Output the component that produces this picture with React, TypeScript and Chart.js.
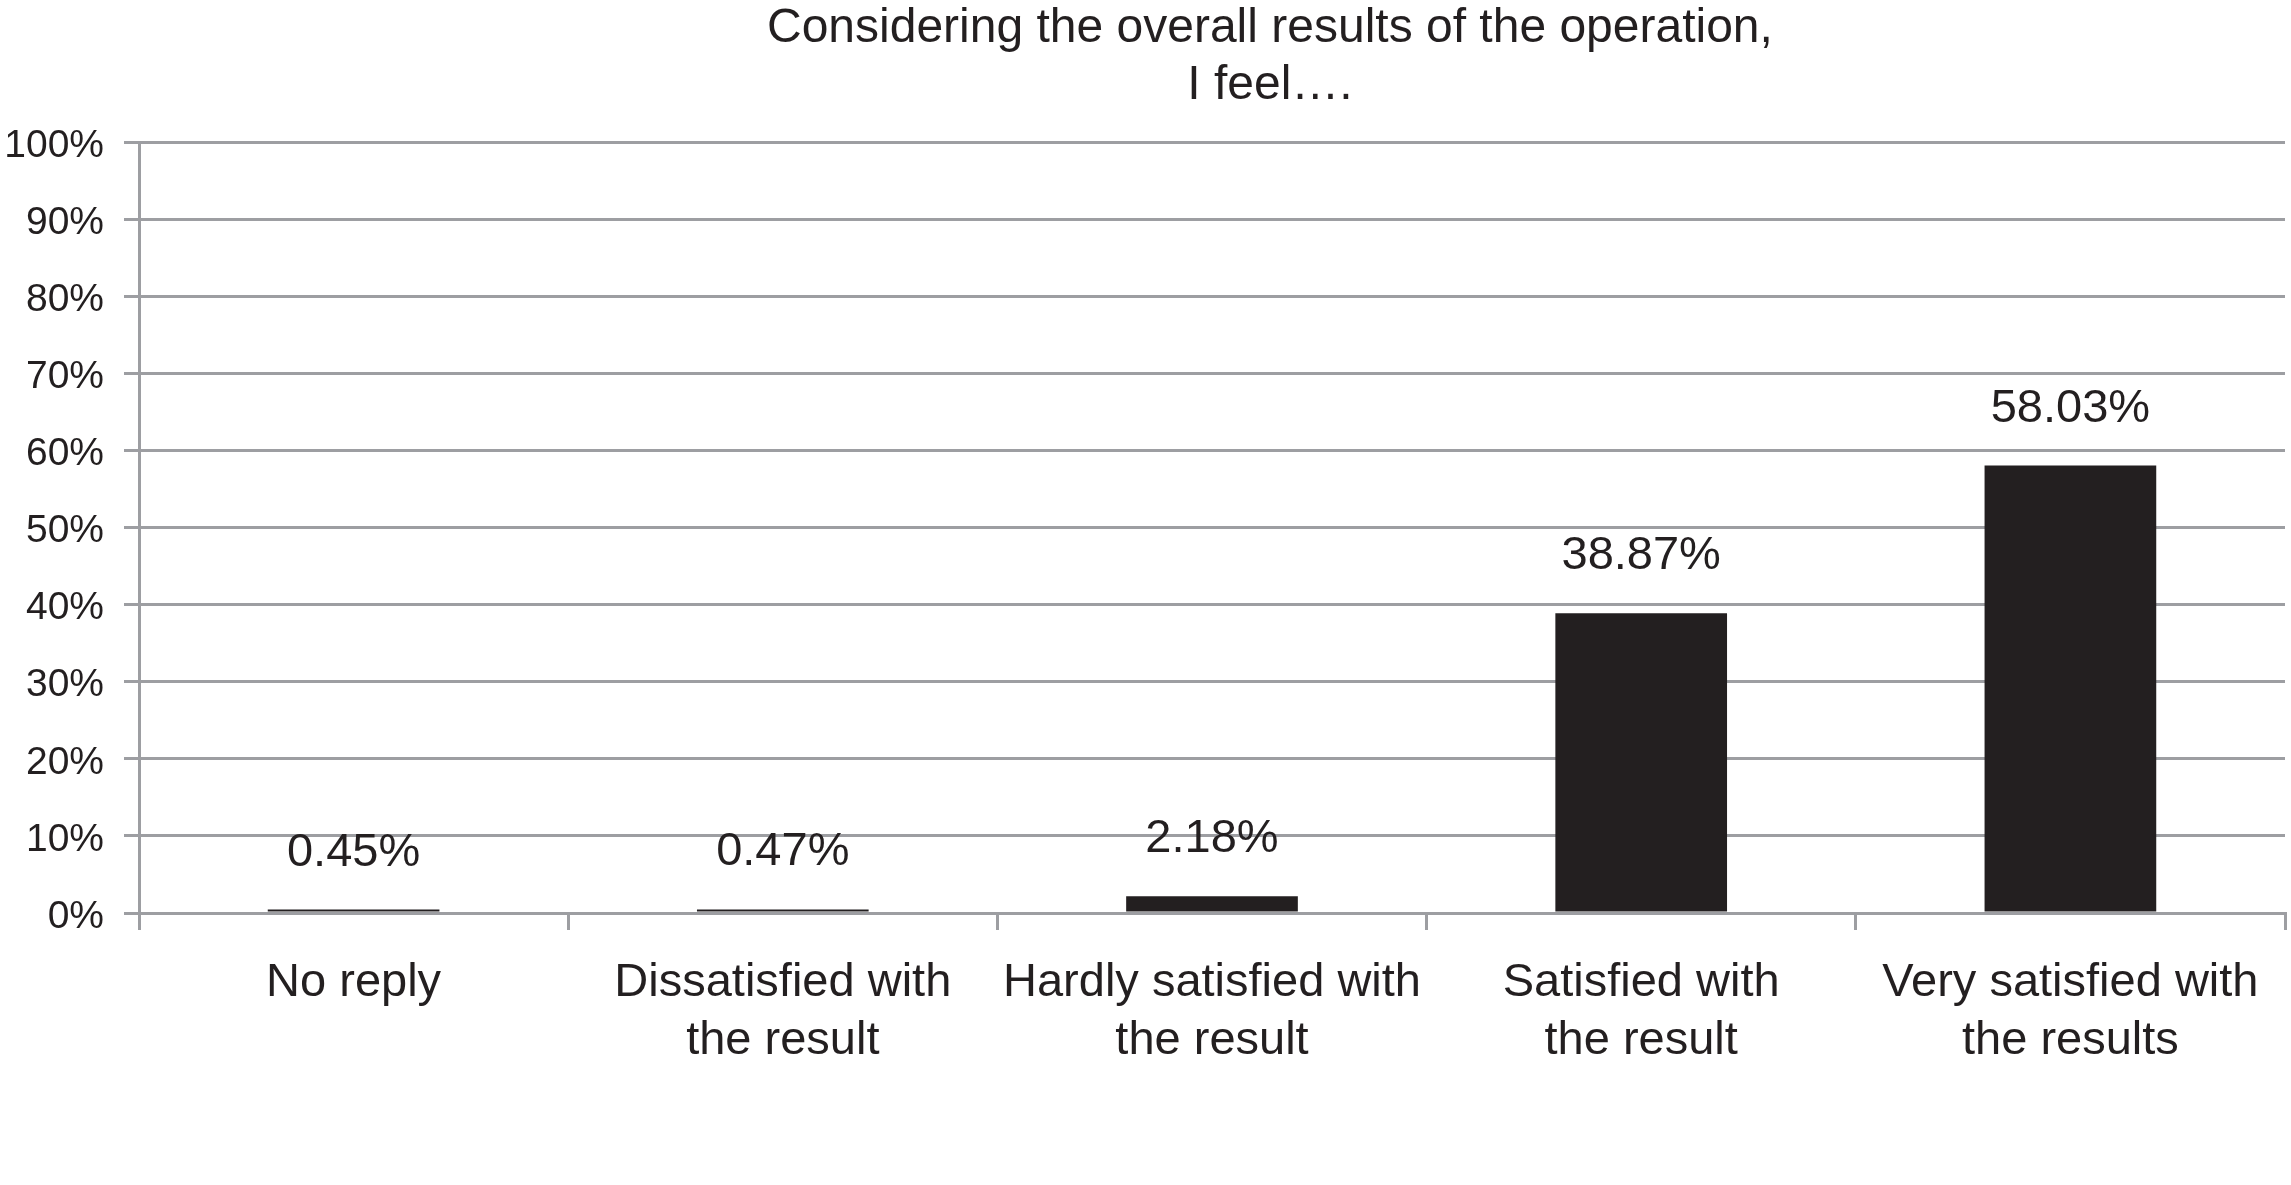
import React, { useEffect, useRef } from "react";
import { Chart, registerables } from "chart.js";

Chart.register(...registerables);

const titleLines: string[] = ["Considering the overall results of the operation,", "I feel…."];
const categories: string[][] = [
  ["No reply"],
  ["Dissatisfied with", "the result"],
  ["Hardly satisfied with", "the result"],
  ["Satisfied with", "the result"],
  ["Very satisfied with", "the results"],
];
const values: number[] = [0.45, 0.47, 2.18, 38.87, 58.03];
const valueLabels: string[] = ["0.45%", "0.47%", "2.18%", "38.87%", "58.03%"];
const yMin = 0;
const yMax = 100;
const yStep = 10;

const FONT = "'Liberation Sans', Arial, Helvetica, sans-serif";
const INK = "#231f20";
const GRID = "#9d9ea2";

const titlePlugin = {
  id: "customTitle",
  afterDraw(chart: any) {
    const { ctx, chartArea } = chart;
    ctx.save();
    ctx.fillStyle = INK;
    ctx.font = `48px ${FONT}`;
    ctx.textAlign = "center";
    ctx.textBaseline = "alphabetic";
    const cx = chartArea.left + (chartArea.right - chartArea.left) * 0.527;
    ctx.fillText(titleLines[0], cx, chartArea.top - 100);
    ctx.fillText(titleLines[1], cx, chartArea.top - 43);
    ctx.restore();
  },
};

const valueLabelPlugin = {
  id: "valueLabels",
  afterDatasetsDraw(chart: any) {
    const { ctx } = chart;
    const meta = chart.getDatasetMeta(0);
    ctx.save();
    ctx.fillStyle = INK;
    ctx.font = `47px ${FONT}`;
    ctx.textAlign = "center";
    ctx.textBaseline = "alphabetic";
    meta.data.forEach((bar: any, i: number) => {
      ctx.fillText(valueLabels[i], bar.x, bar.y - 44);
    });
    ctx.restore();
  },
};

export default function App() {
  const ref = useRef<HTMLCanvasElement | null>(null);
  useEffect(() => {
    if (!ref.current) return;
    const chart = new Chart(ref.current, {
      type: "bar",
      data: {
        labels: categories,
        datasets: [
          {
            data: values,
            backgroundColor: INK,
            borderWidth: 0,
            barPercentage: 0.4,
            categoryPercentage: 1.0,
          },
        ],
      },
      options: {
        responsive: false,
        animation: false,
        events: [],
        layout: { padding: { top: 142, right: 6, left: 0, bottom: 0 } },
        plugins: {
          legend: { display: false },
          title: { display: false },
          tooltip: { enabled: false },
        },
        scales: {
          x: {
            z: 1,
            afterFit: (s: any) => {
              s.height = 272;
            },
            grid: {
              display: true,
              drawOnChartArea: false,
              drawTicks: true,
              tickLength: 17,
              color: GRID,
              lineWidth: 3,
              offset: true,
            },
            border: { display: true, color: GRID, width: 3 },
            ticks: {
              color: INK,
              font: { family: FONT, size: 47, lineHeight: 1.23 },
              padding: 24,
              maxRotation: 0,
              minRotation: 0,
              autoSkip: false,
            },
          },
          y: {
            min: yMin,
            max: yMax,
            afterFit: (s: any) => {
              s.width = 139;
            },
            grid: {
              color: GRID,
              lineWidth: 3,
              tickLength: 15,
              drawTicks: true,
            },
            border: { display: true, color: GRID, width: 3 },
            ticks: {
              stepSize: yStep,
              color: INK,
              font: { family: FONT, size: 39 },
              padding: 20,
              labelOffset: 4,
              callback: (v: any) => `${v}%`,
            },
          },
        },
      },
      plugins: [titlePlugin, valueLabelPlugin],
    });
    return () => chart.destroy();
  }, []);

  return (
    <div style={{ position: "fixed", left: 0, top: 0, width: 2291, height: 1185, background: "#ffffff" }}>
      <canvas ref={ref} width={2291} height={1185} style={{ display: "block" }} />
    </div>
  );
}
